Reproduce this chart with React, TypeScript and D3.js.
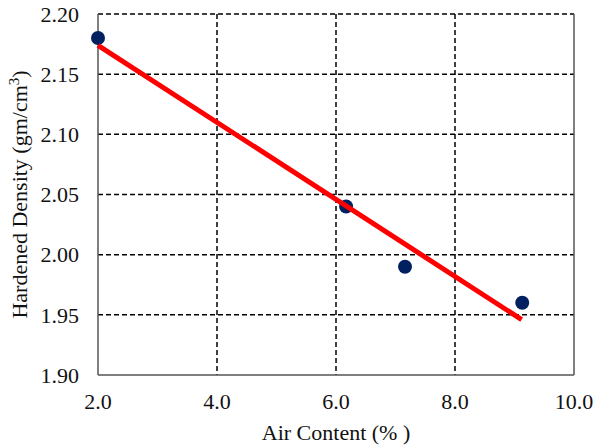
import React from "react";
import * as d3 from "d3";

const airContent = [2.0, 6.17, 7.16, 9.13];
const density = [2.18, 2.04, 1.99, 1.96];
const trendX = [2.0, 9.12];
const trendY = [2.174, 1.946];
const xTicks = [2, 4, 6, 8, 10];
const yTicks = [1.9, 1.95, 2.0, 2.05, 2.1, 2.15, 2.2];

const W = 597, H = 448;
const L = 98, R = 574, T = 14, B = 375;
const ts: React.CSSProperties = { fontFamily: "Liberation Serif", fontSize: 22 };

export default function App() {
  const x = d3.scaleLinear().domain([2, 10]).range([L, R]);
  const y = d3.scaleLinear().domain([1.9, 2.2]).range([B, T]);
  const line = d3.line<number>().x((d) => x(trendX[d])).y((d) => y(trendY[d]));
  return (
    <svg width={W} height={H} style={{ position: "absolute", left: 0, top: 0, background: "#fff" }}>
      {yTicks.filter((t) => t > 1.9).map((t) => (
        <line key={"gy" + t} x1={L} x2={R} y1={y(t)} y2={y(t)} stroke="#000" strokeWidth={1.5} strokeDasharray="5,3" />
      ))}
      {xTicks.filter((t) => t > 2 && t < 10).map((t) => (
        <line key={"gx" + t} x1={x(t)} x2={x(t)} y1={T} y2={B} stroke="#000" strokeWidth={1.5} strokeDasharray="5,3" />
      ))}
      <line x1={L} x2={L} y1={T} y2={B} stroke="#555" strokeWidth={1.5} />
      <line x1={R} x2={R} y1={T} y2={B} stroke="#555" strokeWidth={1.5} />
      <line x1={L} x2={R} y1={B} y2={B} stroke="#555" strokeWidth={1.5} />
      {airContent.map((v, i) => (
        <circle key={"p" + i} cx={x(v)} cy={y(density[i])} r={7} fill="#002060" />
      ))}
      <path d={line([0, 1]) || ""} stroke="#ff0000" strokeWidth={5} fill="none" />
      {yTicks.map((t) => (
        <text key={"yl" + t} x={L - 19} y={y(t)} dy="0.35em" textAnchor="end" style={ts} fill="#111">
          {t.toFixed(2)}
        </text>
      ))}
      {xTicks.map((t) => (
        <text key={"xl" + t} x={x(t)} y={409} textAnchor="middle" style={ts} fill="#111">
          {t.toFixed(1)}
        </text>
      ))}
      <text x={(L + R) / 2} y={440} textAnchor="middle" style={ts} fill="#111">
        Air Content (% )
      </text>
      <text transform={`translate(27, ${(T + B) / 2}) rotate(-90)`} textAnchor="middle" style={ts} fill="#111">
        Hardened Density (gm/cm<tspan dy="-8" style={{ fontSize: 15 }}>3</tspan><tspan dy="8">)</tspan>
      </text>
    </svg>
  );
}
